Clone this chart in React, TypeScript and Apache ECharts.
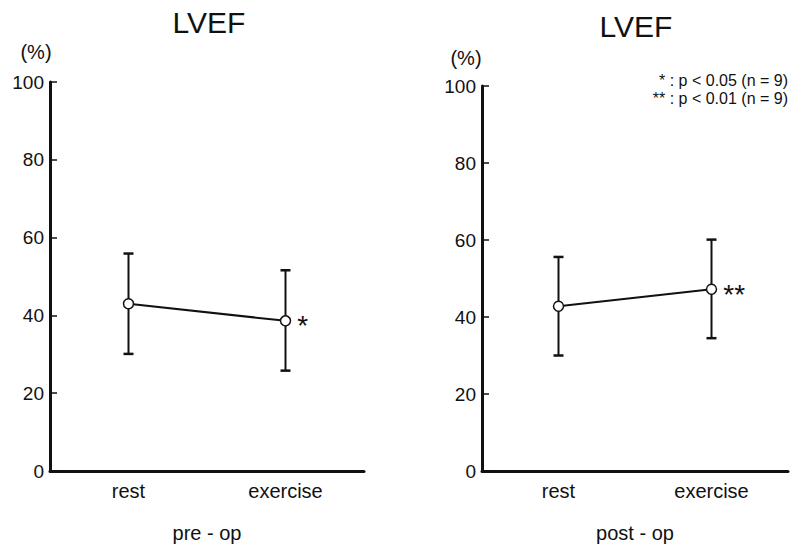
import React, { useEffect, useRef } from "react";
import * as echarts from "echarts";

const categories = ["rest", "exercise"];
const yTicks = [0, 20, 40, 60, 80, 100];

const preMean = [43.0, 38.6];
const preUpper = [55.9, 51.6];
const preLower = [30.1, 25.8];
const preMarks = ["", "*"];

const postMean = [42.8, 47.2];
const postUpper = [55.6, 60.1];
const postLower = [30.0, 34.5];
const postMarks = ["", "**"];

const panelTitles = ["LVEF", "LVEF"];
const panelNames = ["pre - op", "post - op"];
const legendLines = ["* : p < 0.05 (n = 9)", "** : p < 0.01 (n = 9)"];

const FONT = "'Liberation Sans', Arial, Helvetica, sans-serif";
const INK = "#111";

function errorSeries(gridIdx: number, lower: number[], upper: number[]) {
  return {
    type: "custom",
    xAxisIndex: gridIdx,
    yAxisIndex: gridIdx,
    z: 2,
    silent: true,
    data: categories.map((_, i) => [i, lower[i], upper[i]]),
    encode: { x: 0, y: [1, 2] },
    renderItem: (params: any, api: any) => {
      const x = api.value(0);
      const lo = api.coord([x, api.value(1)]);
      const hi = api.coord([x, api.value(2)]);
      const w = 5;
      const st = { stroke: INK, lineWidth: 2 };
      return {
        type: "group",
        children: [
          { type: "line", shape: { x1: lo[0], y1: lo[1], x2: hi[0], y2: hi[1] }, style: st },
          { type: "line", shape: { x1: lo[0] - w, y1: lo[1], x2: lo[0] + w, y2: lo[1] }, style: { stroke: INK, lineWidth: 2.5 } },
          { type: "line", shape: { x1: hi[0] - w, y1: hi[1], x2: hi[0] + w, y2: hi[1] }, style: { stroke: INK, lineWidth: 2.5 } },
        ],
      };
    },
  };
}

function meanSeries(gridIdx: number, mean: number[], marks: string[]) {
  return {
    type: "line",
    xAxisIndex: gridIdx,
    yAxisIndex: gridIdx,
    z: 5,
    symbol: "circle",
    symbolSize: 10,
    itemStyle: { color: "#fff", borderColor: INK, borderWidth: 1.5 },
    lineStyle: { color: INK, width: 2 },
    data: mean.map((v, i) => ({
      value: v,
      label: {
        show: marks[i] !== "",
        formatter: marks[i],
        position: "right",
        distance: 6,
        fontSize: 28,
        fontFamily: FONT,
        color: INK,
        offset: [0, 5],
      },
    })),
  };
}

function xAxisFor(gridIdx: number) {
  return {
    type: "category",
    gridIndex: gridIdx,
    data: categories,
    boundaryGap: true,
    axisLine: { lineStyle: { color: INK, width: 3 } },
    axisTick: { inside: true, alignWithLabel: true, length: 6, lineStyle: { color: INK, width: 1.5 } },
    axisLabel: { color: INK, fontSize: 20, fontFamily: FONT, margin: 10 },
    name: panelNames[gridIdx],
    nameLocation: "middle",
    nameGap: 52,
    nameTextStyle: { color: INK, fontSize: 20, fontFamily: FONT },
  };
}

function yAxisFor(gridIdx: number) {
  return {
    type: "value",
    gridIndex: gridIdx,
    min: yTicks[0],
    max: yTicks[yTicks.length - 1],
    interval: yTicks[1] - yTicks[0],
    splitLine: { show: false },
    axisLine: { show: true, lineStyle: { color: INK, width: 3 } },
    axisTick: { show: true, inside: true, length: 7, lineStyle: { color: INK, width: 1.5 } },
    axisLabel: { color: INK, fontSize: 19, fontFamily: FONT, margin: 6 },
  };
}

export default function App() {
  const ref = useRef<HTMLDivElement>(null);
  useEffect(() => {
    if (!ref.current) return;
    const chart = echarts.init(ref.current, null, { renderer: "svg" });
    chart.setOption({
      animation: false,
      backgroundColor: "#fff",
      grid: [
        { left: 50, top: 82, width: 314, height: 389 },
        { left: 482, top: 86, width: 306, height: 388 },
      ],
      xAxis: [xAxisFor(0), xAxisFor(1)],
      yAxis: [yAxisFor(0), yAxisFor(1)],
      series: [
        errorSeries(0, preLower, preUpper),
        meanSeries(0, preMean, preMarks),
        errorSeries(1, postLower, postUpper),
        meanSeries(1, postMean, postMarks),
      ],
      graphic: [
        { type: "text", x: 209, y: 22, style: { text: panelTitles[0], font: `30px ${FONT}`, fill: INK, align: "center", verticalAlign: "middle" } },
        { type: "text", x: 636, y: 26, style: { text: panelTitles[1], font: `30px ${FONT}`, fill: INK, align: "center", verticalAlign: "middle" } },
        { type: "text", x: 36, y: 52, style: { text: "(%)", font: `20px ${FONT}`, fill: INK, align: "center", verticalAlign: "middle" } },
        { type: "text", x: 466, y: 58, style: { text: "(%)", font: `20px ${FONT}`, fill: INK, align: "center", verticalAlign: "middle" } },
        { type: "text", x: 788, y: 80, style: { text: legendLines[0], font: `16px ${FONT}`, fill: INK, align: "right", verticalAlign: "middle" } },
        { type: "text", x: 788, y: 98, style: { text: legendLines[1], font: `16px ${FONT}`, fill: INK, align: "right", verticalAlign: "middle" } },
      ],
    });
    return () => chart.dispose();
  }, []);
  return (
    <div
      ref={ref}
      style={{ position: "fixed", left: 0, top: 0, width: 793, height: 548, background: "#fff" }}
    />
  );
}
